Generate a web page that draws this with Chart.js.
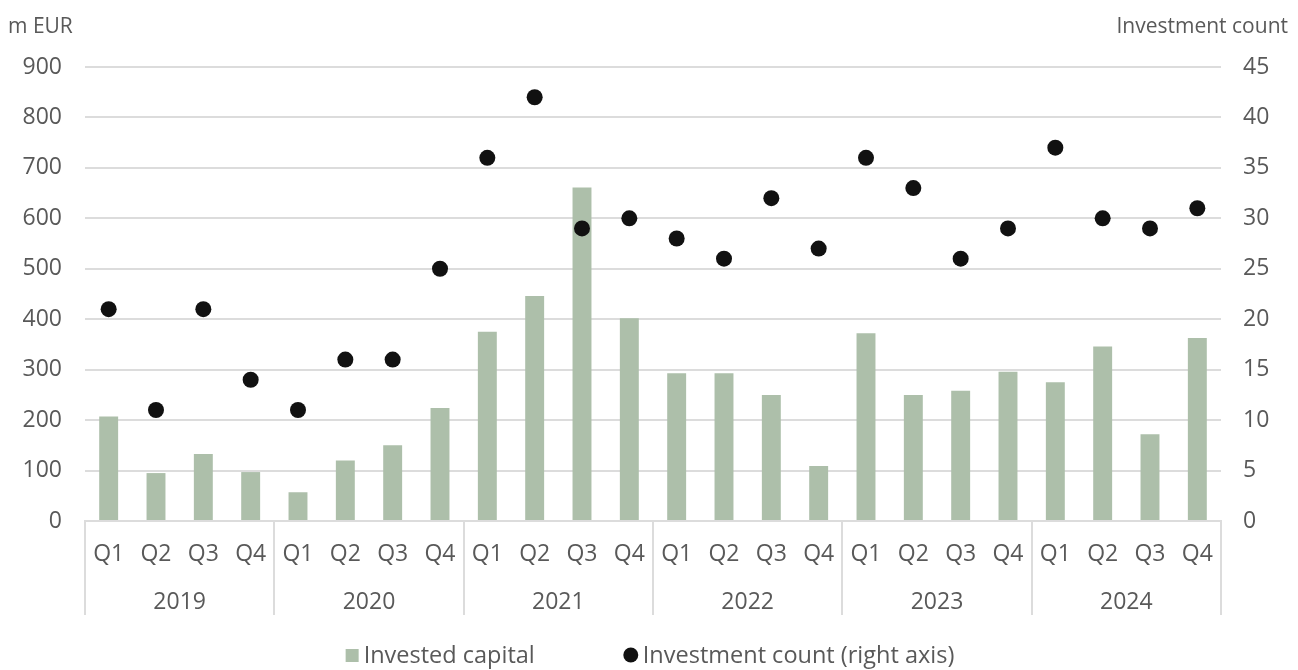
<!DOCTYPE html>
<html>
<head>
<meta charset="utf-8">
<script src="https://cdn.jsdelivr.net/npm/chart.js@4/dist/chart.umd.min.js"></script>
<style>
  html, body { margin: 0; padding: 0; background: #fff; }
  #wrap { width: 1298px; height: 670px; position: relative; }
</style>
</head>
<body>
<div id="wrap"><canvas id="c"></canvas></div>
<script>
// Quarterly venture data, 2019–2024
const years = ['2019', '2020', '2021', '2022', '2023', '2024'];
const quarters = ['Q1', 'Q2', 'Q3', 'Q4'];
const investedCapital = [
  207, 95, 133, 97,
  57, 120, 150, 224,
  375, 446, 661, 402,
  293, 293, 250, 109,
  372, 250, 258, 296,
  275, 346, 172, 363
];
const investmentCount = [
  21, 11, 21, 14,
  11, 16, 16, 25,
  36, 42, 29, 30,
  28, 26, 32, 27,
  36, 33, 26, 29,
  37, 30, 29, 31
];
const leftTicks = [0, 900, 100];
const rightTicks = [0, 45, 5];
const leftTitle = 'm EUR';
const rightTitle = 'Investment count';
const seriesNames = ['Invested capital', 'Investment count (right axis)'];

const quarterLabels = years.flatMap(() => quarters);

const FONT = '"Open Sans", "Noto Sans", sans-serif';
const TEXT = '#595959';
const GRID = '#dcdcdc';
const BAR = '#adbfaa';
const DOT = '#111111';
const TICK_FS = 23;
const TITLE_FS = 21;
const LEGEND_FS = 23.5;

// Draws axis titles, year-group separators and the bottom legend
const decorations = {
  id: 'decorations',
  afterDraw(chart) {
    const { ctx, chartArea } = chart;
    const x = chart.scales.x;
    const x2 = chart.scales.x2;
    ctx.save();

    // group separators under the category axis
    ctx.strokeStyle = GRID;
    ctx.lineWidth = 2;
    for (let k = 0; k <= quarterLabels.length; k += quarters.length) {
      const px = Math.round(x.getPixelForValue(k - 0.5));
      ctx.beginPath();
      ctx.moveTo(px, chartArea.bottom);
      ctx.lineTo(px, x2.bottom);
      ctx.stroke();
    }

    // axis titles
    ctx.fillStyle = TEXT;
    ctx.font = `${TITLE_FS}px ${FONT}`;
    ctx.textBaseline = 'middle';
    ctx.textAlign = 'left';
    ctx.fillText(leftTitle, 8, 27);
    ctx.textAlign = 'right';
    ctx.fillText(rightTitle, chart.width - 10, 27);

    // legend
    ctx.font = `${LEGEND_FS}px ${FONT}`;
    const ds = chart.data.datasets;
    const gap = 88;
    const mark = 16;
    const widths = ds.map(d => mark + 4 + ctx.measureText(d.label).width);
    const total = widths.reduce((a, b) => a + b, 0) + gap * (ds.length - 1);
    let cx = (chart.width - total) / 2;
    const ly = 655;
    ds.forEach((d, i) => {
      if (d.type === 'bar') {
        ctx.fillStyle = d.backgroundColor;
        ctx.fillRect(cx + 2, ly - 6, 13, 13);
      } else {
        ctx.fillStyle = d.pointBackgroundColor;
        ctx.beginPath();
        ctx.arc(cx + 8, ly, 7.5, 0, Math.PI * 2);
        ctx.fill();
      }
      ctx.fillStyle = TEXT;
      ctx.textAlign = 'left';
      ctx.fillText(d.label, cx + mark + 4, ly + 1);
      cx += widths[i] + gap;
    });
    ctx.restore();
  }
};

new Chart(document.getElementById('c'), {
  data: {
    labels: quarterLabels,
    datasets: [
      {
        type: 'bar',
        label: seriesNames[0],
        data: investedCapital,
        yAxisID: 'y',
        xAxisID: 'x',
        backgroundColor: BAR,
        borderWidth: 0,
        barPercentage: 0.8,
        categoryPercentage: 0.5,
        order: 1
      },
      {
        type: 'scatter',
        label: seriesNames[1],
        data: investmentCount,
        yAxisID: 'y1',
        xAxisID: 'x',
        showLine: false,
        pointRadius: 8,
        pointHoverRadius: 8,
        pointBackgroundColor: DOT,
        pointBorderColor: DOT,
        pointBorderWidth: 0,
        order: 0
      }
    ]
  },
  options: {
    responsive: true,
    maintainAspectRatio: false,
    animation: false,
    layout: { padding: { top: 67, bottom: 55, left: 0, right: 0 } },
    plugins: {
      legend: { display: false },
      tooltip: { enabled: false }
    },
    scales: {
      x: {
        type: 'category',
        position: 'bottom',
        offset: true,
        grid: { display: false },
        border: { display: true, color: GRID, width: 2 },
        ticks: {
          color: TEXT, font: { family: FONT, size: TICK_FS },
          padding: 12, maxRotation: 0, autoSkip: false
        },
        afterFit(s) { s.height = 48; }
      },
      x2: {
        type: 'category',
        position: 'bottom',
        labels: years,
        offset: true,
        grid: { display: false },
        border: { display: false },
        ticks: {
          color: TEXT, font: { family: FONT, size: TICK_FS },
          padding: 12, maxRotation: 0, autoSkip: false
        },
        afterFit(s) { s.height = 46; }
      },
      y: {
        type: 'linear',
        position: 'left',
        min: leftTicks[0], max: leftTicks[1],
        grid: { color: GRID, lineWidth: 2, drawTicks: false },
        border: { display: false },
        ticks: {
          stepSize: leftTicks[2], color: TEXT,
          font: { family: FONT, size: TICK_FS }, padding: 23
        },
        afterFit(s) { s.width = 85; }
      },
      y1: {
        type: 'linear',
        position: 'right',
        min: rightTicks[0], max: rightTicks[1],
        grid: { display: false, drawOnChartArea: false, drawTicks: false },
        border: { display: false },
        ticks: {
          stepSize: rightTicks[2], color: TEXT,
          font: { family: FONT, size: TICK_FS }, padding: 22
        },
        afterFit(s) { s.width = 77; }
      }
    }
  },
  plugins: [decorations]
});
</script>
</body>
</html>
